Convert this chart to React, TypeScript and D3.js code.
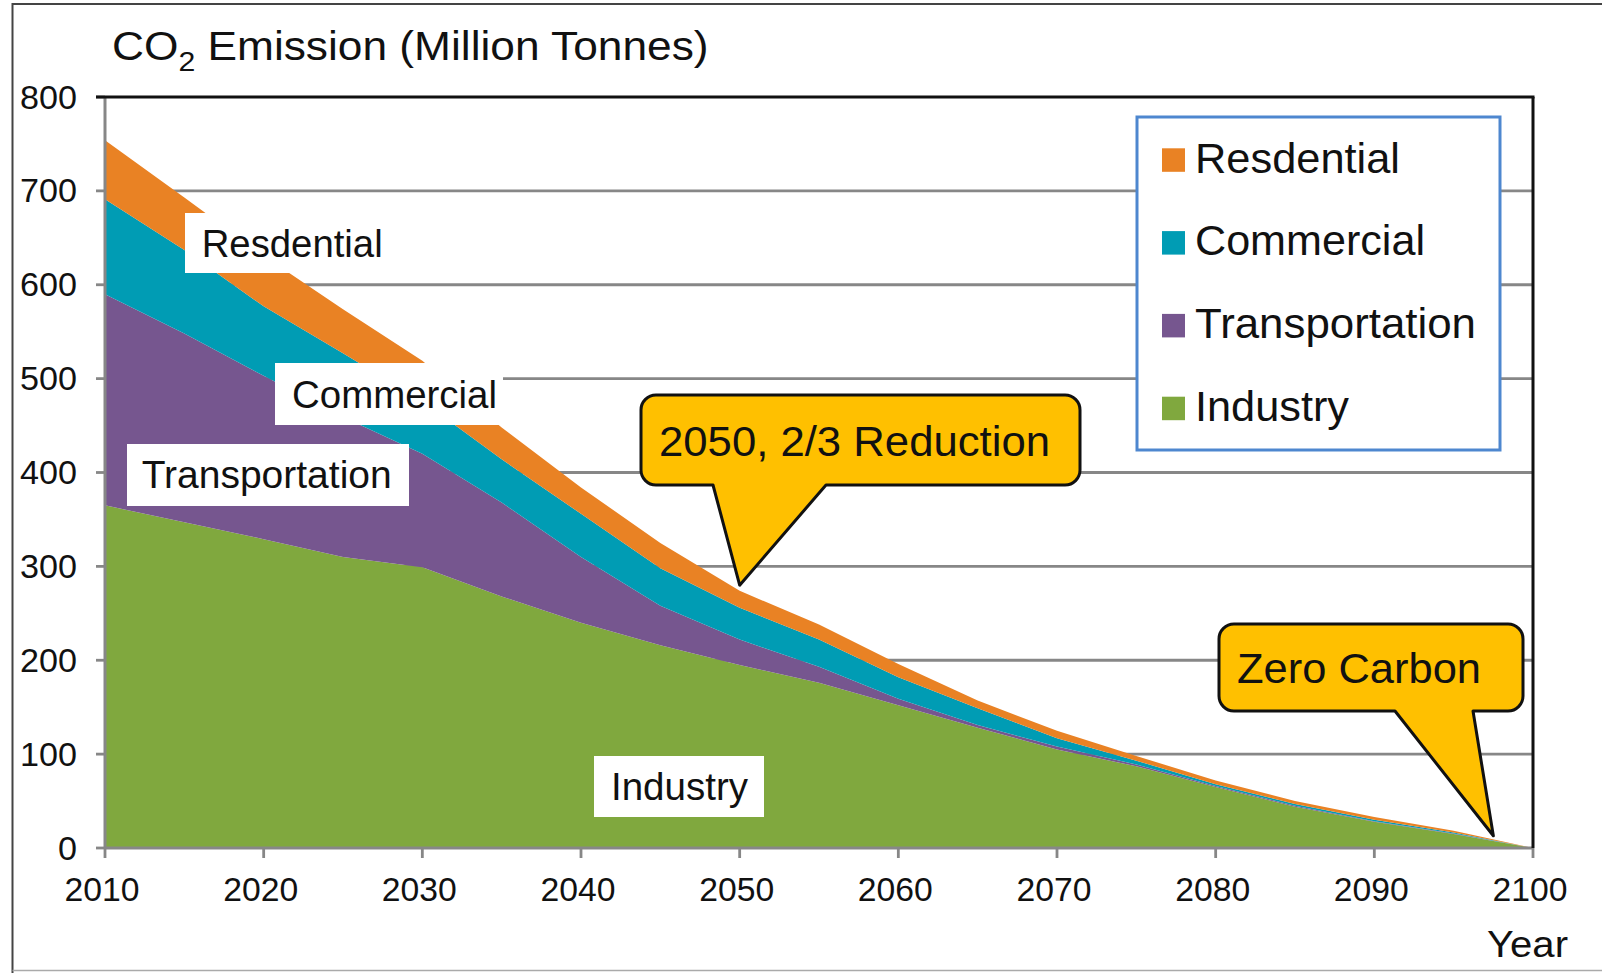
import React from "react";
import * as d3 from "d3";

// ---- data (Million Tonnes CO2) ----
const years = [2010, 2015, 2020, 2025, 2030, 2035, 2040, 2045, 2050, 2055, 2060, 2065, 2070, 2075, 2080, 2085, 2090, 2095, 2100];
const industry = [365, 347, 329, 310, 299, 268, 240, 216, 195, 176, 152, 128, 105, 87, 65, 44, 28, 15, 0];
const transportation = [225, 201, 174, 149, 121, 100, 70, 42, 27, 17, 7, 3, 3, 2, 1, 1, 0.5, 0.5, 0];
const commercial = [101, 89, 74, 68, 56, 46, 46, 40, 34, 29, 23, 18, 9, 4, 2, 2, 1.5, 1, 0];
const residential = [63, 56, 54, 47, 43, 34, 28, 27, 18, 16, 14, 8, 8, 5, 4, 3, 3, 2, 0];

const seriesKeys = ["Industry", "Transportation", "Commercial", "Resdential"];
const seriesColors: Record<string, string> = {
  Industry: "#80A83E",
  Transportation: "#76568F",
  Commercial: "#009CB4",
  Resdential: "#E98224",
};
const legendOrder = ["Resdential", "Commercial", "Transportation", "Industry"];
const yTicks = [0, 100, 200, 300, 400, 500, 600, 700, 800];
const xTicks = [2010, 2020, 2030, 2040, 2050, 2060, 2070, 2080, 2090, 2100];

const FONT = "'Liberation Sans', Arial, sans-serif";

function callout(
  bx0: number, by0: number, bx1: number, by1: number, r: number,
  px0: number, px1: number, tx: number, ty: number
) {
  return [
    `M${bx0 + r},${by0}`,
    `H${bx1 - r}`,
    `A${r},${r} 0 0 1 ${bx1},${by0 + r}`,
    `V${by1 - r}`,
    `A${r},${r} 0 0 1 ${bx1 - r},${by1}`,
    `H${px1}`,
    `L${tx},${ty}`,
    `L${px0},${by1}`,
    `H${bx0 + r}`,
    `A${r},${r} 0 0 1 ${bx0},${by1 - r}`,
    `V${by0 + r}`,
    `A${r},${r} 0 0 1 ${bx0 + r},${by0}`,
    "Z",
  ].join(" ");
}

export default function App() {
  const x = d3.scaleLinear().domain([2010, 2100]).range([105, 1533]);
  const y = d3.scaleLinear().domain([0, 800]).range([848, 97]);

  const rows = years.map((yr, i) => ({
    year: yr,
    Industry: industry[i],
    Transportation: transportation[i],
    Commercial: commercial[i],
    Resdential: residential[i],
  }));
  const stacked = d3.stack<any>().keys(seriesKeys)(rows);
  const area = d3
    .area<any>()
    .x((d: any) => x(d.data.year))
    .y0((d: any) => y(d[0]))
    .y1((d: any) => y(d[1]))
    .curve(d3.curveLinear);

  const legendX = 1137, legendY = 117, legendW = 363, legendH = 333;
  const legendStep = 82.8;

  // annotation anchors via scales
  const tip1x = x(2050), tip1y = y(280);
  const tip2x = x(2097.5), tip2y = y(13);

  return (
    <svg
      width={1602}
      height={973}
      style={{ position: "absolute", left: 0, top: 0, display: "block", background: "#fff" }}
      fontFamily={FONT}
    >
      <rect x={0} y={0} width={1602} height={973} fill="#fff" />
      {/* outer frame */}
      <path d="M1602,4 H12.5 V973" fill="none" stroke="#444" strokeWidth={2} />
      <line x1={12.5} x2={1602} y1={970.5} y2={970.5} stroke="#aaa" strokeWidth={1.5} />

      {/* gridlines */}
      {yTicks.filter((t) => t > 0 && t < 800).map((t) => (
        <line key={t} x1={x(2010)} x2={x(2100)} y1={y(t)} y2={y(t)} stroke="#878787" strokeWidth={2.8} />
      ))}

      {/* stacked areas */}
      {stacked.map((s: any) => (
        <path key={s.key} d={area(s) || ""} fill={seriesColors[s.key]} />
      ))}

      {/* axes */}
      <line x1={x(2010)} x2={x(2010)} y1={y(800)} y2={y(0)} stroke="#878787" strokeWidth={3} />
      {yTicks.map((t) => (
        <line key={"yt" + t} x1={96} x2={x(2010)} y1={y(t)} y2={y(t)} stroke="#878787" strokeWidth={2.8} />
      ))}
      <line x1={x(2010)} x2={x(2100)} y1={y(0)} y2={y(0)} stroke="#878787" strokeWidth={3} />
      {xTicks.map((t) => (
        <line key={"xt" + t} x1={x(t)} x2={x(t)} y1={y(0)} y2={y(0) + 10} stroke="#878787" strokeWidth={2.8} />
      ))}
      {/* plot top and right borders */}
      <line x1={96} x2={x(2100) + 1.5} y1={y(800)} y2={y(800)} stroke="#111" strokeWidth={3} />
      <line x1={x(2100)} x2={x(2100)} y1={y(800)} y2={y(0)} stroke="#111" strokeWidth={3} />

      {/* tick labels */}
      {yTicks.map((t) => {
        const s = String(t);
        return (
          <text key={"yl" + t} x={77} y={y(t) + 11.5} fontSize={32.5} textAnchor="end"
            textLength={s.length * 19} lengthAdjust="spacingAndGlyphs" fill="#111">
            {s}
          </text>
        );
      })}
      {xTicks.map((t) => (
        <text key={"xl" + t} x={x(t) - 3} y={901} fontSize={32.5} textAnchor="middle"
          textLength={75} lengthAdjust="spacingAndGlyphs" fill="#111">
          {t}
        </text>
      ))}

      {/* title */}
      <g transform="translate(112,60) scale(1.08,1)">
        <text x={0} y={0} fontSize={41} fill="#111">
          CO
          <tspan fontSize={28} dy={10.5}>2</tspan>
          <tspan dy={-10.5}> Emission (Million Tonnes)</tspan>
        </text>
      </g>

      {/* Year label */}
      <text x={1487} y={957} fontSize={36} textLength={81} lengthAdjust="spacingAndGlyphs" fill="#111">Year</text>

      {/* in-chart labels */}
      <rect x={185} y={213} width={202} height={60} fill="#fff" />
      <text x={201.7} y={256.7} fontSize={38} textLength={181} lengthAdjust="spacingAndGlyphs" fill="#111">Resdential</text>

      <rect x={275} y={363} width={228} height={62} fill="#fff" />
      <text x={292} y={408} fontSize={38} textLength={205} lengthAdjust="spacingAndGlyphs" fill="#111">Commercial</text>

      <rect x={127} y={444} width={282} height={62} fill="#fff" />
      <text x={141.7} y={488} fontSize={38} textLength={250} lengthAdjust="spacingAndGlyphs" fill="#111">Transportation</text>

      <rect x={594} y={756} width={170} height={61} fill="#fff" />
      <text x={611} y={800} fontSize={39} textLength={137} lengthAdjust="spacingAndGlyphs" fill="#111">Industry</text>

      {/* legend */}
      <rect x={legendX} y={legendY} width={legendW} height={legendH} fill="#fff" stroke="#4E87CF" strokeWidth={3} />
      {legendOrder.map((k, i) => {
        const top = 148.3 + i * legendStep;
        const widths: Record<string, number> = { Resdential: 205, Commercial: 230, Transportation: 281, Industry: 154 };
        return (
          <g key={"lg" + k}>
            <rect x={1162} y={top} width={23} height={23.5} fill={seriesColors[k]} />
            <text x={1195} y={top + 24.2} fontSize={43} textLength={widths[k]} lengthAdjust="spacingAndGlyphs" fill="#111">
              {k}
            </text>
          </g>
        );
      })}

      {/* callouts */}
      <path d={callout(641, 395, 1080, 485, 15, 713, 826, tip1x, tip1y)} fill="#FFC000" stroke="#111" strokeWidth={3} strokeLinejoin="round" />
      <text x={659} y={456} fontSize={43} textLength={391} lengthAdjust="spacingAndGlyphs" fill="#111">2050, 2/3 Reduction</text>

      <path d={callout(1219, 624, 1523, 711, 15, 1395, 1473, tip2x, tip2y)} fill="#FFC000" stroke="#111" strokeWidth={3} strokeLinejoin="round" />
      <text x={1237} y={683} fontSize={43} textLength={244} lengthAdjust="spacingAndGlyphs" fill="#111">Zero Carbon</text>
    </svg>
  );
}
